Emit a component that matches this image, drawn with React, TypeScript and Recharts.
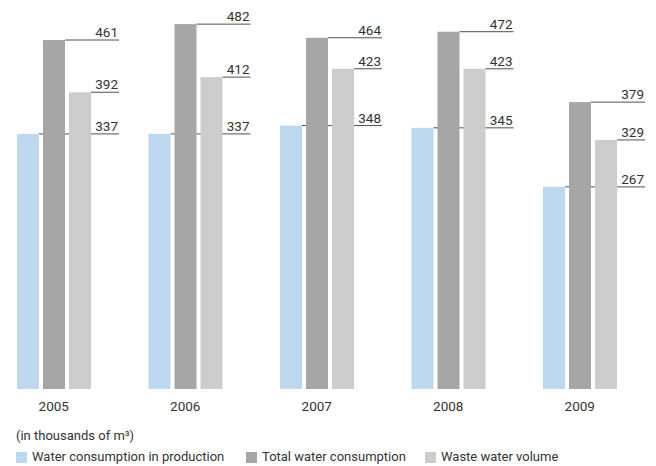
import { BarChart, Bar, XAxis, YAxis } from 'recharts'

const years = ['2005', '2006', '2007', '2008', '2009']
const production = [337, 337, 348, 345, 267]
const totalWater = [461, 482, 464, 472, 379]
const wasteWater = [392, 412, 423, 423, 329]

const seriesNames = ['Water consumption in production', 'Total water consumption', 'Waste water volume']
const seriesColors = ['#bdd7ee', '#a6a6a6', '#cccccc']
const unitNote = '(in thousands of m³)'

const FONT = 'Roboto, "Open Sans", sans-serif'
const BAR = 22
const GAP = 4
const OVERHANG = 28

const data = years.map((year, i) => ({
  year,
  production: production[i],
  total: totalWater[i],
  waste: wasteWater[i],
}))

const lineEnd = (x: number, width: number, barsAfter: number) =>
  x + width + barsAfter * (BAR + GAP) + OVERHANG

// bar plus its leader line; bars of later series are painted over the line
const makeShape = (barsAfter: number) => (props: any) => {
  const { x, y, width, height, fill } = props
  return (
    <g>
      <line x1={x + width} y1={y} x2={lineEnd(x, width, barsAfter)} y2={y} stroke="#505050" strokeWidth={1} />
      <rect x={x} y={y} width={width} height={height} fill={fill} />
    </g>
  )
}

const makeLabel = (barsAfter: number) => (props: any) => {
  const { x, y, width, value } = props
  if (x == null || y == null) return null
  return (
    <text x={lineEnd(x, width, barsAfter) - 1} y={y - 3} textAnchor="end" fontSize={13.5} fill="#333" fontFamily={FONT}>
      {value}
    </text>
  )
}

export default function App() {
  return (
    <div style={{ position: 'absolute', left: 0, top: 0, width: 656, height: 466, fontFamily: FONT }}>
      <div style={{ position: 'absolute', left: -12, top: 0 }}>
        <BarChart
          width={668}
          height={420}
          data={data}
          barSize={BAR}
          barGap={GAP}
          margin={{ top: 10.5, right: 10.5, bottom: 1, left: 0 }}
        >
          <XAxis
            dataKey="year"
            axisLine={false}
            tickLine={false}
            tickSize={0}
            tickMargin={12}
            height={30}
            interval={0}
            tick={{ fill: '#333', fontSize: 13.5, fontFamily: FONT }}
          />
          <YAxis hide domain={[0, 500]} />
          <Bar dataKey="production" fill={seriesColors[0]} isAnimationActive={false} shape={makeShape(2)} label={makeLabel(2)} />
          <Bar dataKey="total" fill={seriesColors[1]} isAnimationActive={false} shape={makeShape(1)} label={makeLabel(1)} />
          <Bar dataKey="waste" fill={seriesColors[2]} isAnimationActive={false} shape={makeShape(0)} label={makeLabel(0)} />
        </BarChart>
      </div>
      <div style={{ position: 'absolute', left: 16, top: 428, fontSize: 13, color: '#333', lineHeight: '16px' }}>
        {unitNote}
      </div>
      {seriesNames.map((name, i) => (
        <div
          key={name}
          style={{
            position: 'absolute',
            left: [16, 246, 425][i],
            top: 449,
            display: 'flex',
            alignItems: 'center',
            fontSize: 13,
            color: '#333',
            lineHeight: '16px',
            whiteSpace: 'nowrap',
          }}
        >
          <span style={{ display: 'inline-block', width: 11, height: 11, background: seriesColors[i], marginRight: 5 }} />
          {name}
        </div>
      ))}
    </div>
  )
}
